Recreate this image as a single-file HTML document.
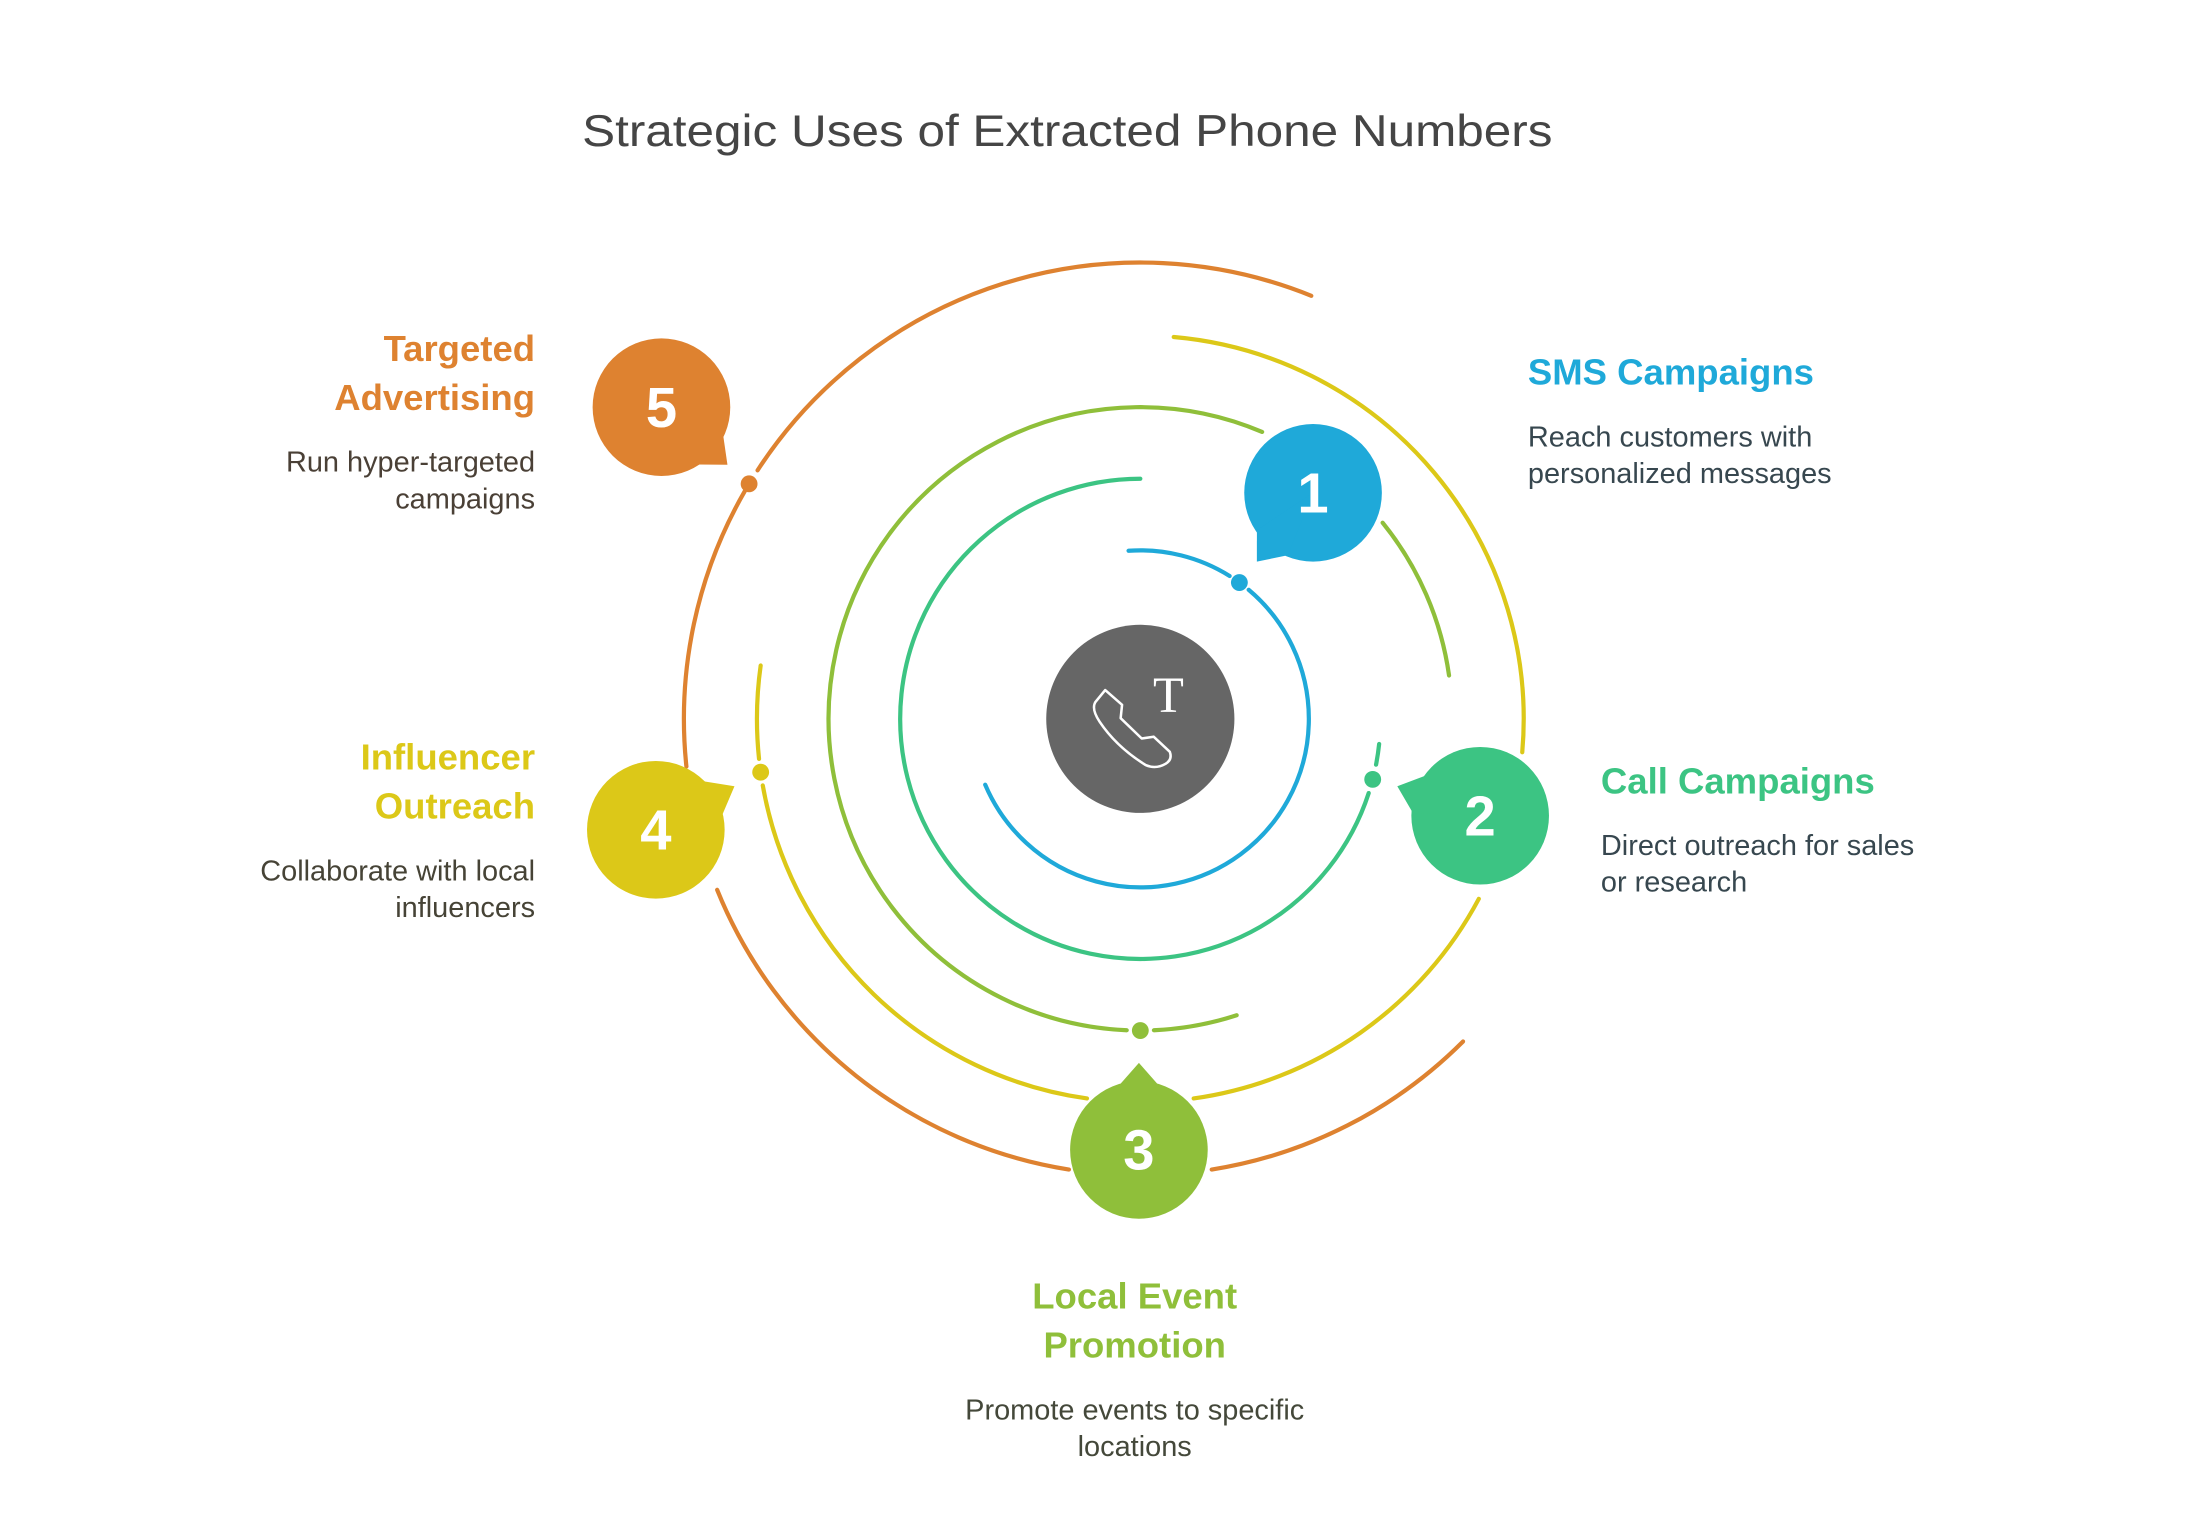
<!DOCTYPE html>
<html><head><meta charset="utf-8"><style>
html,body{margin:0;padding:0;background:#fff;}
svg{display:block;}
text{font-family:"Liberation Sans",Arial,sans-serif;}
</style></head><body>
<svg id="s" width="2202" height="1536" viewBox="0 0 1568 1094" preserveAspectRatio="none" xmlns="http://www.w3.org/2000/svg">
<rect width="1568" height="1094" fill="#fff"/>
<g id="arcs" fill="none" stroke-width="3" stroke-linecap="round"></g>
<g id="dots"></g>
<g id="badges"></g>
<circle cx="812" cy="512" r="67" fill="#666"/>
<path d="M780,500 L787,491.5 L799,502 L798,511.5 L813,526 L821.5,524.7 L833,535.5 Q835,541 830,544 Q823,548 816,545 Q795,532 783,514 Q777,505 780,500 Z" fill="none" stroke="#fff" stroke-width="1.8" stroke-linejoin="round"/>
<text x="832" y="507" font-size="36" fill="#fff" text-anchor="middle" style="font-family:'Liberation Serif',serif">T</text>

<text x="760" y="104" font-size="32" fill="#454545" text-anchor="middle" textLength="691" lengthAdjust="spacingAndGlyphs">Strategic Uses of Extracted Phone Numbers</text>

<g font-weight="bold" font-size="26">
<text x="381" y="257" text-anchor="end" fill="#DE8230">Targeted</text>
<text x="381" y="292" text-anchor="end" fill="#DE8230">Advertising</text>
<text x="1088" y="274" fill="#1FA9D9">SMS Campaigns</text>
<text x="1140" y="565" fill="#3CC483">Call Campaigns</text>
<text x="381" y="548" text-anchor="end" fill="#DCC818">Influencer</text>
<text x="381" y="583" text-anchor="end" fill="#DCC818">Outreach</text>
<text x="808" y="932" text-anchor="middle" fill="#8FBF3A">Local Event</text>
<text x="808" y="967" text-anchor="middle" fill="#8FBF3A">Promotion</text>
</g>
<g font-size="20.6">
<text x="381" y="336" text-anchor="end" fill="#4a4036">Run hyper-targeted</text>
<text x="381" y="362" text-anchor="end" fill="#4a4036">campaigns</text>
<text x="1088" y="318" fill="#37474F">Reach customers with</text>
<text x="1088" y="344" fill="#37474F">personalized messages</text>
<text x="1140" y="609" fill="#37474F">Direct outreach for sales</text>
<text x="1140" y="635" fill="#37474F">or research</text>
<text x="381" y="627" text-anchor="end" fill="#464336">Collaborate with local</text>
<text x="381" y="653" text-anchor="end" fill="#464336">influencers</text>
<text x="808" y="1011" text-anchor="middle" fill="#44483a">Promote events to specific</text>
<text x="808" y="1037" text-anchor="middle" fill="#44483a">locations</text>
</g>
<g id="nums" font-weight="bold" font-size="40" fill="#fff" text-anchor="middle">
<text x="471" y="304">5</text>
<text x="935" y="365">1</text>
<text x="1054" y="595">2</text>
<text x="811" y="833">3</text>
<text x="467" y="605">4</text>
</g>
<script>
(function(){
var NS="http://www.w3.org/2000/svg",cx=812,cy=512;
function pt(r,a){a=a*Math.PI/180;return [cx+r*Math.cos(a),cy+r*Math.sin(a)];}
function el(t,at,p){var e=document.createElementNS(NS,t);for(var k in at)e.setAttribute(k,at[k]);(p||document.getElementById('arcs')).appendChild(e);return e;}
function arc(r,a1,a2,c){var p=pt(r,a1),q=pt(r,a2);var large=(a2-a1)>180?1:0;
el('path',{d:'M'+p[0]+','+p[1]+' A'+r+','+r+' 0 '+large+' 1 '+q[0]+','+q[1],stroke:c});}
var B="#1FA9D9",T="#3CC483",L="#8FBF3A",Y="#DCC818",O="#DE8230";
arc(120,-94,-58,B);arc(120,-50,157,B);
arc(171,6,11,T);arc(171,18,270,T);
arc(222,-39,-8,L);arc(222,72,87.5,L);arc(222,92.5,293,L);
arc(273,-85,5,Y);arc(273,28,82,Y);arc(273,98,170,Y);arc(273,174,188,Y);
arc(325,45,81,O);arc(325,99,158,O);arc(325,174,210,O);arc(325,213,292,O);
var D=document.getElementById('dots');
function dot(r,a,c){var p=pt(r,a);el('circle',{cx:p[0],cy:p[1],r:6,fill:c},D);}
dot(120,-54,B);dot(171,14.6,T);dot(222,90,L);dot(273,172,Y);dot(325,211,O);
var G=document.getElementById('badges');
function badge(x,y,tx,ty,c){var R=48;var a=Math.atan2(ty-y,tx-x);var w=0.3;
var p1=[x+R*Math.cos(a-w),y+R*Math.sin(a-w)],p2=[x+R*Math.cos(a+w),y+R*Math.sin(a+w)];
el('circle',{cx:x,cy:y,r:R+1,fill:c},G);
el('path',{d:'M'+p1[0]+','+p1[1]+' L'+tx+','+ty+' L'+p2[0]+','+p2[1]+' L'+x+','+y+' Z',fill:c},G);}
badge(471,290,518,331,O);badge(935,351,895,400,B);badge(1054,581,995,560,T);badge(811,819,811,757,L);badge(467,591,523,560,Y);
})();
</script>
</svg>
</body></html>
